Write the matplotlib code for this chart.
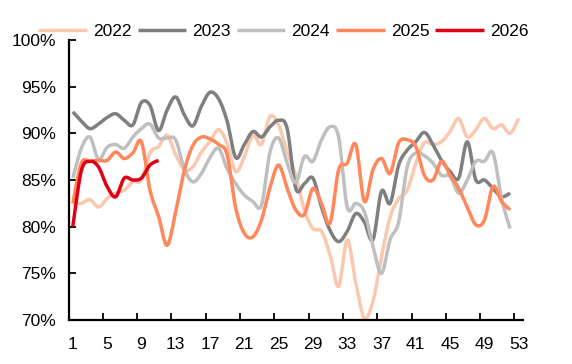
import numpy as np
import matplotlib
matplotlib.use("Agg")
import matplotlib.pyplot as plt

plt.rcParams['font.family'] = ['Liberation Sans', 'DejaVu Sans']

# weekly values (%)
v2022 = [82.5, 82.5, 82.9, 82.1, 83.0, 83.6, 83.9, 84.8, 85.0, 87.9,
         88.6, 89.8, 87.7, 86.1, 86.4, 88.0, 89.1, 90.4, 88.9, 85.9,
         87.5, 89.8, 88.8, 91.8, 90.9, 88.0, 85.5, 81.8, 79.8, 79.5,
         77.0, 73.6, 78.6, 74.0, 70.2, 72.0, 76.8, 81.0, 83.0, 83.9,
         86.8, 89.0, 88.8, 89.1, 90.2, 91.6, 89.6, 90.4, 91.6, 90.5,
         90.9, 90.0, 91.6]
v2023 = [92.3, 91.3, 90.5, 91.0, 91.7, 92.1, 91.4, 90.9, 93.3, 93.0,
         90.3, 92.5, 93.9, 92.0, 90.8, 92.9, 94.4, 93.7, 91.3, 87.4,
         88.8, 90.2, 89.6, 90.7, 91.4, 90.5, 84.1, 84.6, 85.2, 82.1,
         79.6, 78.4, 79.5, 81.4, 80.5, 78.6, 83.8, 82.5, 86.6, 88.2,
         89.1, 90.1, 88.8, 87.1, 85.9, 85.2, 89.1, 85.0, 85.0, 84.1,
         83.2, 83.6]
v2024 = [85.2, 88.4, 89.6, 87.2, 88.5, 88.8, 88.4, 89.6, 90.5, 91.0,
         89.5, 89.5, 89.3, 86.2, 84.8, 85.7, 87.4, 88.4, 86.2, 84.6,
         83.4, 82.7, 82.3, 88.0, 89.5, 86.8, 84.7, 87.5, 87.0, 89.3,
         90.7, 89.6, 82.1, 82.5, 81.6, 77.9, 75.0, 78.6, 80.5, 86.4,
         87.9, 87.6, 86.8, 85.5, 85.4, 83.6, 85.0, 87.0, 87.0, 87.9,
         83.0, 79.8]
v2025 = [82.5, 86.8, 87.0, 87.1, 87.1, 88.0, 87.3, 87.9, 89.1, 83.9,
         81.1, 78.0, 81.6, 86.0, 88.7, 89.6, 89.4, 88.8, 87.7, 82.0,
         79.3, 78.9, 80.7, 84.2, 86.6, 84.1, 81.8, 81.3, 84.1, 82.5,
         80.4, 86.1, 86.8, 88.8, 82.7, 86.1, 87.3, 85.7, 89.0, 89.3,
         88.6, 85.5, 85.0, 87.0, 85.5, 84.1, 82.1, 80.2, 80.7, 84.3,
         82.7, 81.8]
v2026 = [80.0, 86.0, 87.0, 86.4, 84.3, 83.2, 85.2, 85.0, 85.2, 86.6, 87.1]

series = [("2022", v2022, "#F9C8AF"),
          ("2023", v2023, "#7F7F7F"),
          ("2024", v2024, "#BFBFBF"),
          ("2025", v2025, "#FF875A"),
          ("2026", v2026, "#E00016")]

week_labels = list(range(1, 54, 4))


def smooth(x, y, n=16):
    # Excel-style smoothed line (Bezier through every point)
    x = np.asarray(x, float)
    y = np.asarray(y, float)
    p = np.column_stack([x, y])
    m = len(p)
    t = np.linspace(0, 1, n)[:, None]
    out = []
    for i in range(m - 1):
        p0 = p[i - 1] if i > 0 else p[i]
        p1 = p[i]
        p2 = p[i + 1]
        p3 = p[i + 2] if i + 2 < m else p[i + 1]
        c1 = p1 + (p2 - p0) / 6
        c2 = p2 - (p3 - p1) / 6
        b = ((1 - t) ** 3) * p1 + 3 * ((1 - t) ** 2) * t * c1 \
            + 3 * (1 - t) * t ** 2 * c2 + t ** 3 * p2
        out.append(b if i == 0 else b[1:])
    b = np.vstack(out)
    return b[:, 0], b[:, 1]


fig = plt.figure(figsize=(5.72, 3.64), dpi=100)
ax = fig.add_axes([68.5 / 572, 1 - 320 / 364, (523 - 68.5) / 572, 280 / 364])

for name, vals, col in series:
    weeks = np.arange(1, len(vals) + 1)
    sx, sy = smooth(weeks, vals)
    ax.plot(sx, sy, color=col, lw=2.5, label=name, solid_capstyle='butt')

ax.set_xlim(0.5, 53.5)
ax.set_ylim(70, 100)

ax.set_yticks(np.arange(70, 101, 5))
ax.set_yticklabels([f"{v}%" for v in range(70, 101, 5)])
ax.tick_params(axis='y', direction='in', length=5, width=1.3, pad=9,
               labelsize=12.5)

# x labels sit at the week, tick marks between categories
ax.set_xticks(week_labels)
ax.set_xticklabels([str(w) for w in week_labels])
ax.set_xticks(np.arange(4.5, 53, 4), minor=True)
ax.tick_params(axis='x', which='major', length=0, pad=12, labelsize=12.5)
ax.tick_params(axis='x', which='minor', direction='in', length=5, width=1.3)

for s in ['top', 'right']:
    ax.spines[s].set_visible(False)
for s in ['left', 'bottom']:
    ax.spines[s].set_linewidth(1.6)
    ax.spines[s].set_color('black')

fig.legend(loc='center', bbox_to_anchor=(283.5 / 572, 1 - 31.7 / 364),
           ncol=5, frameon=False, fontsize=12.5, handlelength=2.8,
           handletextpad=0.35, columnspacing=0.35, borderpad=0,
           borderaxespad=0)

fig.savefig("out.png", dpi=100)
